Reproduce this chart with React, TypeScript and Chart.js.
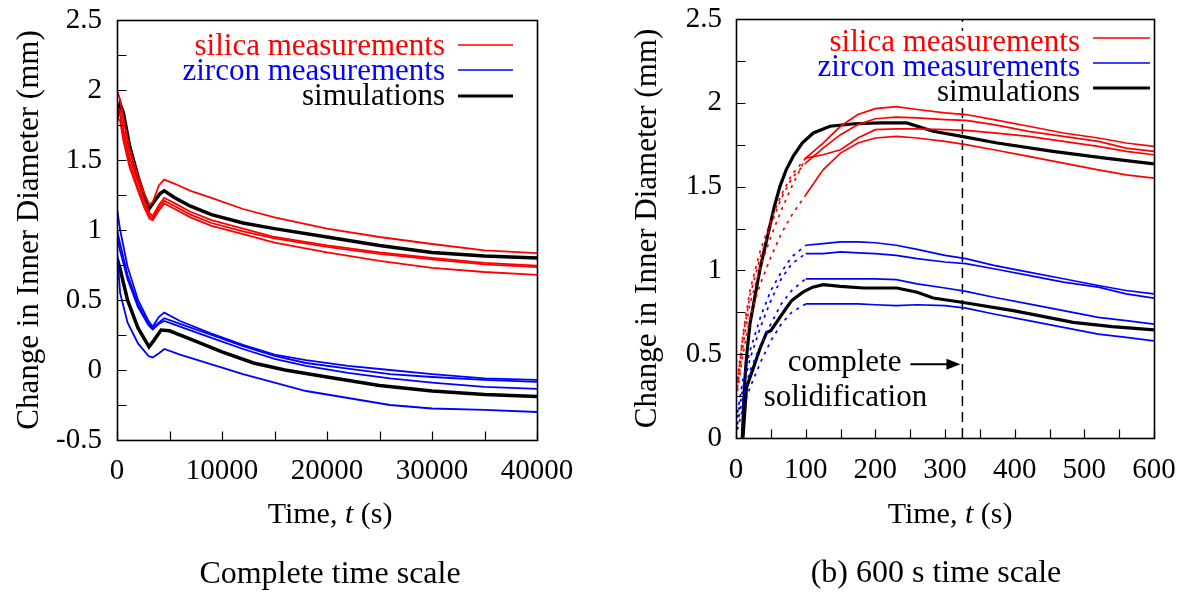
import React, { useEffect, useRef } from "react";
import { Chart, registerables } from "chart.js";

Chart.register(...registerables);

const SERIF = '"Liberation Serif", "Times New Roman", Times, serif';
const RED = "#ff0000";
const BLUE = "#0000ff";
const BLACK = "#000000";

// ---------------- (a) complete time scale ----------------
const fullSilicaTime = [0, 300, 600, 1200, 2000, 2600, 3100, 3400, 4000, 4500, 5500, 7000, 9000, 12000, 15000, 20000, 25000, 30000, 35000, 40000];
const fullSilica1 = [2.0, 1.93, 1.80, 1.58, 1.38, 1.26, 1.18, 1.20, 1.32, 1.36, 1.33, 1.28, 1.23, 1.15, 1.09, 1.01, 0.95, 0.90, 0.855, 0.835];
const fullSilica2 = [1.88, 1.85, 1.72, 1.52, 1.34, 1.21, 1.12, 1.10, 1.18, 1.23, 1.19, 1.13, 1.07, 1.01, 0.95, 0.89, 0.84, 0.80, 0.765, 0.745];
const fullSilica3 = [1.85, 1.82, 1.68, 1.48, 1.30, 1.18, 1.10, 1.08, 1.16, 1.21, 1.17, 1.11, 1.05, 0.99, 0.94, 0.88, 0.83, 0.79, 0.755, 0.735];
const fullSilica4 = [1.80, 1.78, 1.64, 1.45, 1.28, 1.16, 1.08, 1.07, 1.14, 1.19, 1.15, 1.09, 1.03, 0.97, 0.91, 0.84, 0.78, 0.73, 0.70, 0.68];

const fullZirconTime = [0, 300, 1000, 2000, 3000, 3400, 4000, 4500, 6000, 9000, 12000, 15000, 18000, 22000, 26000, 30000, 35000, 40000];
const fullZircon1 = [1.15, 1.0, 0.74, 0.50, 0.35, 0.31, 0.38, 0.41, 0.35, 0.26, 0.18, 0.11, 0.07, 0.03, 0.0, -0.03, -0.06, -0.07];
const fullZircon2 = [1.0, 0.9, 0.68, 0.47, 0.33, 0.30, 0.34, 0.37, 0.33, 0.25, 0.17, 0.10, 0.05, 0.01, -0.03, -0.05, -0.07, -0.085];
const fullZircon3 = [0.95, 0.85, 0.65, 0.45, 0.32, 0.29, 0.33, 0.35, 0.31, 0.23, 0.15, 0.08, 0.03, -0.02, -0.06, -0.09, -0.12, -0.135];
const fullZircon4 = [0.85, 0.55, 0.34, 0.19, 0.10, 0.09, 0.12, 0.15, 0.11, 0.04, -0.03, -0.09, -0.15, -0.20, -0.25, -0.275, -0.285, -0.30];

const fullSimSilicaTime = [0, 300, 600, 1200, 2000, 2600, 3050, 3500, 4100, 4500, 5500, 7000, 9000, 12000, 15000, 20000, 25000, 30000, 35000, 40000];
const fullSimSilica = [1.80, 1.90, 1.84, 1.60, 1.38, 1.24, 1.15, 1.20, 1.26, 1.28, 1.23, 1.17, 1.11, 1.05, 1.01, 0.95, 0.89, 0.84, 0.815, 0.80];
const fullSimZirconTime = [0, 300, 1000, 2000, 3050, 3500, 4200, 5000, 7000, 10000, 13000, 16000, 20000, 25000, 30000, 35000, 40000];
const fullSimZircon = [0.80, 0.72, 0.50, 0.30, 0.165, 0.21, 0.285, 0.28, 0.22, 0.13, 0.05, 0.0, -0.05, -0.11, -0.15, -0.175, -0.19];

// ---------------- (b) 600 s time scale ----------------
const shortMeasTime = [2, 10, 20, 35, 50, 65, 80, 100, 125, 150, 175, 200, 230, 260, 300, 330, 370, 420, 470, 520, 560, 600];
const shortSilica1 = [0.35, 0.62, 0.88, 1.12, 1.30, 1.45, 1.57, 1.67, 1.76, 1.86, 1.93, 1.965, 1.977, 1.96, 1.94, 1.93, 1.90, 1.86, 1.82, 1.79, 1.76, 1.74];
const shortSilica2 = [0.33, 0.60, 0.85, 1.08, 1.27, 1.43, 1.55, 1.64, 1.73, 1.81, 1.87, 1.905, 1.915, 1.91, 1.90, 1.895, 1.87, 1.83, 1.80, 1.77, 1.73, 1.71];
const shortSilica3 = [0.30, 0.55, 0.80, 1.02, 1.20, 1.36, 1.50, 1.67, 1.69, 1.72, 1.79, 1.84, 1.845, 1.845, 1.84, 1.835, 1.82, 1.80, 1.77, 1.74, 1.71, 1.69];
const shortSilica4 = [0.28, 0.50, 0.72, 0.92, 1.08, 1.22, 1.33, 1.45, 1.60, 1.70, 1.76, 1.79, 1.80, 1.79, 1.77, 1.75, 1.72, 1.68, 1.64, 1.60, 1.57, 1.55];
const shortZircon1 = [0.15, 0.35, 0.52, 0.72, 0.88, 0.99, 1.08, 1.15, 1.16, 1.17, 1.17, 1.165, 1.15, 1.125, 1.09, 1.07, 1.03, 0.99, 0.95, 0.91, 0.88, 0.86];
const shortZircon2 = [0.12, 0.30, 0.47, 0.66, 0.82, 0.95, 1.04, 1.10, 1.10, 1.11, 1.105, 1.10, 1.09, 1.07, 1.05, 1.04, 1.01, 0.97, 0.93, 0.90, 0.86, 0.835];
const shortZircon3 = [0.08, 0.25, 0.40, 0.55, 0.68, 0.80, 0.88, 0.95, 0.95, 0.95, 0.95, 0.95, 0.945, 0.92, 0.895, 0.875, 0.84, 0.80, 0.76, 0.72, 0.70, 0.68];
const shortZircon4 = [0.05, 0.18, 0.30, 0.45, 0.58, 0.68, 0.75, 0.80, 0.80, 0.80, 0.80, 0.795, 0.79, 0.795, 0.79, 0.775, 0.74, 0.70, 0.66, 0.62, 0.60, 0.58];

const shortSimSilicaTime = [9, 12, 15, 20, 27, 35, 44, 55, 63, 72, 82, 95, 111, 135, 170, 207, 245, 283, 324, 375, 455, 530, 600];
const shortSimSilica = [0, 0.3, 0.48, 0.68, 0.84, 1.02, 1.18, 1.38, 1.50, 1.60, 1.68, 1.76, 1.82, 1.86, 1.875, 1.88, 1.88, 1.83, 1.80, 1.76, 1.71, 1.67, 1.635];
const shortSimZirconTime = [10, 15, 25, 35, 44, 50, 63, 73, 80, 96, 110, 125, 150, 183, 231, 260, 283, 324, 398, 484, 540, 600];
const shortSimZircon = [0, 0.30, 0.42, 0.54, 0.63, 0.64, 0.72, 0.78, 0.82, 0.87, 0.90, 0.915, 0.905, 0.895, 0.895, 0.87, 0.835, 0.81, 0.76, 0.69, 0.665, 0.645];

const dottedUntil = 100; // measurements before this time are dotted
const solidificationTime = 325;

const legendLabels = ["silica measurements", "zircon measurements", "simulations"];
const legendColors = [RED, BLUE, BLACK];
const legendWidths = [1.5, 1.5, 3];

const pts = (t: number[], v: number[]) => t.map((x, i) => ({ x, y: v[i] }));

type Layout = {
  yTitleX: number;
  xTitleX: number;
  xTitleY: number;
  captionX: number;
  captionY: number;
  caption: string;
  legendTextRight: number;
  legendLineX1: number;
  legendLineX2: number;
  legendLineY: number[];
  legendBaseY: number[];
  legendBg: boolean;
  annotation: boolean;
};

function drawParts(ctx: CanvasRenderingContext2D, parts: { t: string; it?: boolean }[], cx: number, y: number, size: number) {
  let total = 0;
  const widths = parts.map((p) => {
    ctx.font = `${p.it ? "italic " : ""}${size}px ${SERIF}`;
    const w = ctx.measureText(p.t).width;
    total += w;
    return w;
  });
  let x = cx - total / 2;
  ctx.textAlign = "left";
  ctx.textBaseline = "alphabetic";
  parts.forEach((p, i) => {
    ctx.font = `${p.it ? "italic " : ""}${size}px ${SERIF}`;
    ctx.fillText(p.t, x, y);
    x += widths[i];
  });
}

function makeDecor(L: Layout) {
  return {
    id: "decor",
    afterDraw(chart: any) {
      const { ctx, chartArea: a, scales } = chart;
      const xs = scales.x;
      const ys = scales.y;
      ctx.save();
      ctx.setLineDash([]);

      // legend
      ctx.font = `31px ${SERIF}`;
      legendLabels.forEach((lab, i) => {
        const w = ctx.measureText(lab).width;
        if (L.legendBg) {
          ctx.fillStyle = "#fff";
          ctx.fillRect(L.legendTextRight - w - 2, L.legendBaseY[i] - 20, w + 4, 27);
        }
        ctx.fillStyle = legendColors[i];
        ctx.textAlign = "right";
        ctx.textBaseline = "alphabetic";
        ctx.fillText(lab, L.legendTextRight, L.legendBaseY[i]);
        ctx.beginPath();
        ctx.strokeStyle = legendColors[i];
        ctx.lineWidth = legendWidths[i];
        ctx.moveTo(L.legendLineX1, L.legendLineY[i]);
        ctx.lineTo(L.legendLineX2, L.legendLineY[i]);
        ctx.stroke();
      });

      // frame
      const l = Math.round(a.left) + 0.5;
      const r = Math.round(a.right) + 0.5;
      const t = Math.round(a.top) + 0.5;
      const b = Math.round(a.bottom) + 0.5;
      ctx.strokeStyle = "#000";
      ctx.lineWidth = 1.6;
      ctx.strokeRect(l, t, r - l, b - t);
      // inward ticks
      ctx.beginPath();
      xs.ticks.forEach((tk: any) => {
        const px = Math.round(xs.getPixelForValue(tk.value)) + 0.5;
        ctx.moveTo(px, b);
        ctx.lineTo(px, b - 9);
      });
      ys.ticks.forEach((tk: any) => {
        const py = Math.round(ys.getPixelForValue(tk.value)) + 0.5;
        ctx.moveTo(l, py);
        ctx.lineTo(l + 9, py);
      });
      ctx.lineWidth = 1.2;
      ctx.stroke();

      // annotation
      if (L.annotation) {
        const tipX = xs.getPixelForValue(solidificationTime) - 2;
        const ay = ys.getPixelForValue(0.44);
        const startX = tipX - 50;
        ctx.strokeStyle = "#000";
        ctx.fillStyle = "#000";
        ctx.lineWidth = 2;
        ctx.beginPath();
        ctx.moveTo(startX, ay);
        ctx.lineTo(tipX - 12, ay);
        ctx.stroke();
        ctx.beginPath();
        ctx.moveTo(tipX, ay);
        ctx.lineTo(tipX - 14, ay - 5.5);
        ctx.lineTo(tipX - 14, ay + 5.5);
        ctx.closePath();
        ctx.fill();
        ctx.font = `31px ${SERIF}`;
        ctx.textAlign = "right";
        ctx.textBaseline = "alphabetic";
        ctx.fillText("complete", startX - 9, ay + 7);
        ctx.textAlign = "center";
        ctx.fillText("solidification", startX - 65, ay + 42);
      }

      // y title
      ctx.fillStyle = "#000";
      ctx.save();
      ctx.translate(L.yTitleX, (a.top + a.bottom) / 2);
      ctx.rotate(-Math.PI / 2);
      ctx.font = `31px ${SERIF}`;
      ctx.textAlign = "center";
      ctx.textBaseline = "middle";
      ctx.fillText("Change in Inner Diameter (mm)", 0, 0);
      ctx.restore();

      // x title
      ctx.fillStyle = "#000";
      drawParts(ctx, [{ t: "Time, " }, { t: "t", it: true }, { t: " (s)" }], L.xTitleX, L.xTitleY, 30);
      // caption
      drawParts(ctx, [{ t: L.caption }], L.captionX, L.captionY, 32);
      ctx.restore();
    },
  };
}

const tickFont = { family: SERIF, size: 29 };

function yLabel(v: number) {
  const r = Math.round(v * 2);
  if (Math.abs(v * 2 - r) > 1e-6) return "";
  return String(r / 2);
}

function fixX(h: number) {
  return (s: any) => {
    s.height = h;
    s.paddingLeft = 0;
    s.paddingRight = 0;
    s.paddingTop = 0;
    s.paddingBottom = 0;
  };
}
function fixY(w: number) {
  return (s: any) => {
    s.width = w;
    s.paddingLeft = 0;
    s.paddingRight = 0;
    s.paddingTop = 0;
    s.paddingBottom = 0;
  };
}

function ChartCanvas({ config, width, height, left }: { config: () => any; width: number; height: number; left: number }) {
  const ref = useRef<HTMLCanvasElement | null>(null);
  useEffect(() => {
    if (!ref.current) return;
    const chart = new Chart(ref.current, config());
    return () => chart.destroy();
  }, []);
  return (
    <canvas
      ref={ref}
      width={width}
      height={height}
      style={{ position: "absolute", left, top: 0, width, height }}
    />
  );
}

function leftConfig() {
  const mk = (data: any[], color: string, w: number) => ({
    data,
    borderColor: color,
    borderWidth: w,
    pointRadius: 0,
    tension: 0,
    fill: false,
  });
  return {
    type: "line",
    data: {
      datasets: [
        mk(pts(fullSilicaTime, fullSilica1), RED, 1.8),
        mk(pts(fullSilicaTime, fullSilica2), RED, 1.8),
        mk(pts(fullSilicaTime, fullSilica3), RED, 1.8),
        mk(pts(fullSilicaTime, fullSilica4), RED, 1.8),
        mk(pts(fullZirconTime, fullZircon1), BLUE, 1.8),
        mk(pts(fullZirconTime, fullZircon2), BLUE, 1.8),
        mk(pts(fullZirconTime, fullZircon3), BLUE, 1.8),
        mk(pts(fullZirconTime, fullZircon4), BLUE, 1.8),
        mk(pts(fullSimSilicaTime, fullSimSilica), BLACK, 3.5),
        mk(pts(fullSimZirconTime, fullSimZircon), BLACK, 3.5),
      ],
    },
    options: {
      responsive: false,
      animation: false,
      devicePixelRatio: 1,
      events: [],
      layout: { padding: { left: 0, top: 20, right: 63, bottom: 0 } },
      plugins: { legend: { display: false }, tooltip: { enabled: false } },
      scales: {
        x: {
          type: "linear",
          min: 0,
          max: 40000,
          grid: { display: false, drawTicks: false },
          border: { display: false },
          ticks: {
            stepSize: 5000,
            autoSkip: false,
            maxRotation: 0,
            padding: 14,
            color: "#000",
            font: tickFont,
            callback: (v: number) => (v % 10000 === 0 ? String(v) : ""),
          },
          afterFit: fixX(156),
        },
        y: {
          type: "linear",
          min: -0.5,
          max: 2.5,
          grid: { display: false, drawTicks: false },
          border: { display: false },
          ticks: {
            stepSize: 0.25,
            autoSkip: false,
            padding: 15,
            color: "#000",
            font: tickFont,
            callback: (v: number) => yLabel(v),
          },
          afterFit: fixY(117),
        },
      },
    },
    plugins: [
      makeDecor({
        yTitleX: 30,
        xTitleX: 330,
        xTitleY: 523,
        captionX: 330,
        captionY: 583,
        caption: "Complete time scale",
        legendTextRight: 445,
        legendLineX1: 458,
        legendLineX2: 513,
        legendLineY: [45, 70, 96],
        legendBaseY: [55, 80, 105],
        legendBg: false,
        annotation: false,
      }),
    ],
  };
}

function rightConfig() {
  const meas = (v: number[], color: string) => ({
    data: pts(shortMeasTime, v),
    borderColor: color,
    borderWidth: 1.7,
    pointRadius: 0,
    tension: 0,
    fill: false,
    segment: {
      borderDash: (ctx: any) => (ctx.p1.parsed.x <= dottedUntil + 0.01 ? [3, 5] : undefined),
    },
  });
  const sim = (t: number[], v: number[]) => ({
    data: pts(t, v),
    borderColor: BLACK,
    borderWidth: 3.2,
    pointRadius: 0,
    tension: 0,
    fill: false,
  });
  return {
    type: "line",
    data: {
      datasets: [
        meas(shortSilica1, RED),
        meas(shortSilica2, RED),
        meas(shortSilica3, RED),
        meas(shortSilica4, RED),
        meas(shortZircon1, BLUE),
        meas(shortZircon2, BLUE),
        meas(shortZircon3, BLUE),
        meas(shortZircon4, BLUE),
        sim(shortSimSilicaTime, shortSimSilica),
        sim(shortSimZirconTime, shortSimZircon),
        {
          data: [
            { x: solidificationTime, y: 0 },
            { x: solidificationTime, y: 2.5 },
          ],
          borderColor: BLACK,
          borderWidth: 1.5,
          borderDash: [10, 6],
          pointRadius: 0,
          fill: false,
        },
      ],
    },
    options: {
      responsive: false,
      animation: false,
      devicePixelRatio: 1,
      events: [],
      layout: { padding: { left: 0, top: 19, right: 31, bottom: 0 } },
      plugins: { legend: { display: false }, tooltip: { enabled: false } },
      scales: {
        x: {
          type: "linear",
          min: 0,
          max: 600,
          grid: { display: false, drawTicks: false },
          border: { display: false },
          ticks: {
            stepSize: 50,
            autoSkip: false,
            maxRotation: 0,
            padding: 15,
            color: "#000",
            font: tickFont,
            callback: (v: number) => (v % 100 === 0 ? String(v) : ""),
          },
          afterFit: fixX(158),
        },
        y: {
          type: "linear",
          min: 0,
          max: 2.5,
          grid: { display: false, drawTicks: false },
          border: { display: false },
          ticks: {
            stepSize: 0.25,
            autoSkip: false,
            padding: 14,
            color: "#000",
            font: tickFont,
            callback: (v: number) => yLabel(v),
          },
          afterFit: fixY(136),
        },
      },
    },
    plugins: [
      makeDecor({
        yTitleX: 48,
        xTitleX: 350,
        xTitleY: 523,
        captionX: 336,
        captionY: 582,
        caption: "(b) 600 s time scale",
        legendTextRight: 480,
        legendLineX1: 493,
        legendLineX2: 550,
        legendLineY: [38, 63, 88],
        legendBaseY: [51, 76, 101],
        legendBg: true,
        annotation: true,
      }),
    ],
  };
}

export default function App() {
  return (
    <div style={{ position: "absolute", left: 0, top: 0, width: 1185, height: 596, background: "#fff", overflow: "hidden" }}>
      <ChartCanvas config={leftConfig} width={600} height={596} left={0} />
      <ChartCanvas config={rightConfig} width={585} height={596} left={600} />
    </div>
  );
}
